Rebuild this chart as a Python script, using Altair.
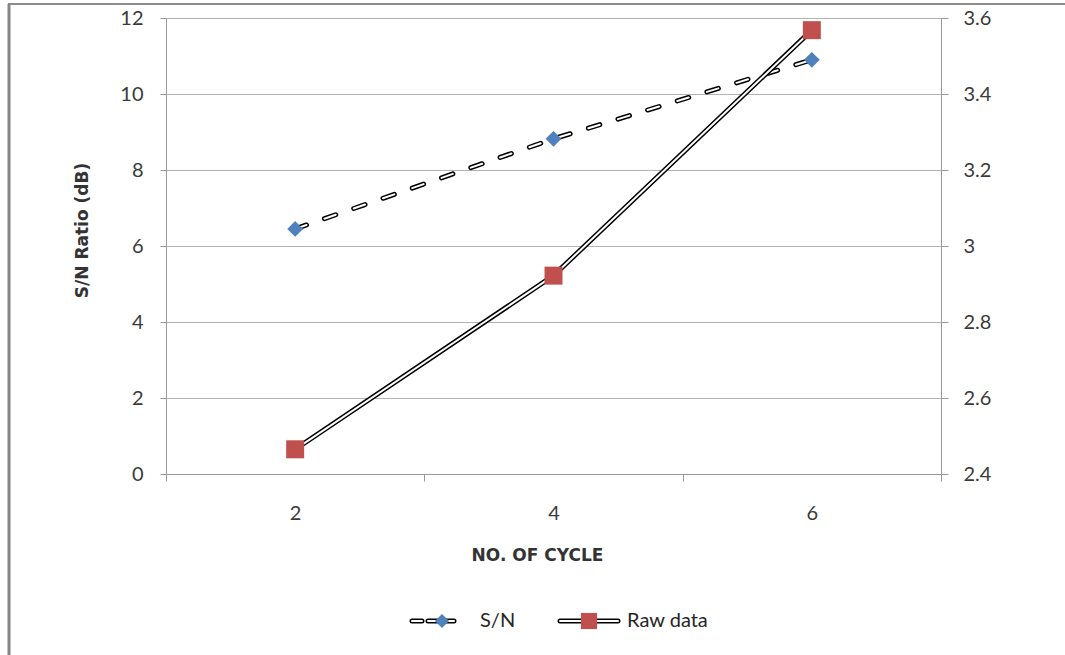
import altair as alt
import pandas as pd

# ---- data ----
cycles = [2, 4, 6]
sn_ratio = [6.45, 8.82, 10.9]          # left axis, dB
raw_data = [2.465, 2.922, 3.568]       # right axis

left_ticks = [0, 2, 4, 6, 8, 10, 12]
right_ticks = [2.4, 2.6, 2.8, 3.0, 3.2, 3.4, 3.6]

df = pd.DataFrame({"cycle": cycles, "sn": sn_ratio, "raw": raw_data})
one = pd.DataFrame({"k": [0]})

FONT = "Lato"
TFONT = "DejaVu Sans"
GRID = "#b4b4b4"
AXC = "#9a9a9a"
LAB = "#3a3a3a"

x_enc = alt.X(
    "cycle:O",
    scale=alt.Scale(type="band", paddingInner=0, paddingOuter=0),
    axis=alt.Axis(
        title="NO. OF CYCLE", tickBand="extent", labelAngle=0, grid=False,
        domainColor=AXC, tickColor=AXC, tickSize=7, labelPadding=22,
        labelFont=FONT, labelFontSize=20, labelColor=LAB,
        titleFont=TFONT, titleFontSize=17, titleFontWeight="bold", titleColor="#333333",
        titleX=371, titleY=81, titleAlign="center", titleBaseline="middle",
    ),
)

y_left = alt.Y(
    "sn:Q",
    scale=alt.Scale(domain=[0, 12], nice=False, zero=False),
    axis=alt.Axis(
        title="S/N Ratio (dB)", values=left_ticks, grid=True, gridColor=GRID,
        domainColor=AXC, tickColor=AXC, tickSize=6, labelPadding=17,
        labelFont=FONT, labelFontSize=20, labelColor=LAB,
        titleFont=TFONT, titleFontSize=17, titleFontWeight="bold", titleColor="#333333",
        titleX=-84, titleY=212, titleAngle=270, titleAlign="center", titleBaseline="middle",
    ),
)

y_right = alt.Y(
    "raw:Q",
    scale=alt.Scale(domain=[2.4, 3.6], nice=False, zero=False),
    axis=alt.Axis(
        orient="right", title=None, values=right_ticks, format=".1~f", grid=False,
        domainColor=AXC, tickColor=AXC, tickSize=7, labelPadding=15,
        labelFont=FONT, labelFontSize=20, labelColor=LAB,
    ),
)

base = alt.Chart(df)

sn_black = base.mark_line(color="black", strokeWidth=5, strokeDash=[12, 19], strokeCap="round").encode(x=x_enc, y=y_left)
sn_white = base.mark_line(color="white", strokeWidth=2, strokeDash=[12, 19], strokeCap="round").encode(x=x_enc, y=y_left)
sn_pts = base.mark_point(shape="diamond", filled=True, size=250, color="#4F81BD", opacity=1).encode(x=x_enc, y=y_left)
left = alt.layer(sn_black, sn_white, sn_pts)

raw_black = base.mark_line(color="black", strokeWidth=5).encode(x=x_enc, y=y_right)
raw_white = base.mark_line(color="white", strokeWidth=2).encode(x=x_enc, y=y_right)
raw_pts = base.mark_point(shape="square", filled=True, size=324, color="#C0504D", opacity=1).encode(x=x_enc, y=y_right)
right = alt.layer(raw_black, raw_white, raw_pts)

# ---- hand-built legend (below the plot) ----
lb = alt.Chart(one)
LY = 603
leg = [
    lb.mark_rule(color="black", strokeWidth=5, strokeDash=[10, 6], strokeCap="round").encode(x=alt.value(246), x2=alt.value(292), y=alt.value(LY)),
    lb.mark_rule(color="white", strokeWidth=2, strokeDash=[10, 6], strokeCap="round").encode(x=alt.value(246), x2=alt.value(292), y=alt.value(LY)),
    lb.mark_point(shape="diamond", filled=True, size=200, color="#4F81BD", opacity=1).encode(x=alt.value(276), y=alt.value(LY)),
    lb.mark_text(text="S/N", align="left", baseline="middle", font=FONT, fontSize=20, color="#262626").encode(x=alt.value(314), y=alt.value(LY)),
    lb.mark_rule(color="black", strokeWidth=5, strokeCap="round").encode(x=alt.value(394), x2=alt.value(452), y=alt.value(LY)),
    lb.mark_rule(color="white", strokeWidth=2, strokeCap="round").encode(x=alt.value(394), x2=alt.value(452), y=alt.value(LY)),
    lb.mark_point(shape="square", filled=True, size=260, color="#C0504D", opacity=1).encode(x=alt.value(423), y=alt.value(LY)),
    lb.mark_text(text="Raw data", align="left", baseline="middle", font=FONT, fontSize=20, color="#262626").encode(x=alt.value(461), y=alt.value(LY)),
    # outer frame of the original screenshot
    lb.mark_rule(color="#8c8c8c", strokeWidth=2).encode(x=alt.value(-158), x2=alt.value(900), y=alt.value(-14)),
    lb.mark_rule(color="#858585", strokeWidth=3).encode(x=alt.value(-157), y=alt.value(-14), y2=alt.value(640)),
]

chart = (
    alt.layer(left, right, *leg)
    .resolve_scale(y="independent")
    .properties(
        width=775, height=456,
        autosize=alt.AutoSizeParams(type="none"),
        padding={"left": 166, "top": 18, "right": 124, "bottom": 181},
        background="white",
    )
    .configure_view(strokeWidth=0)
)

chart.save("out.html", embed_options={"renderer": "svg", "actions": False})
